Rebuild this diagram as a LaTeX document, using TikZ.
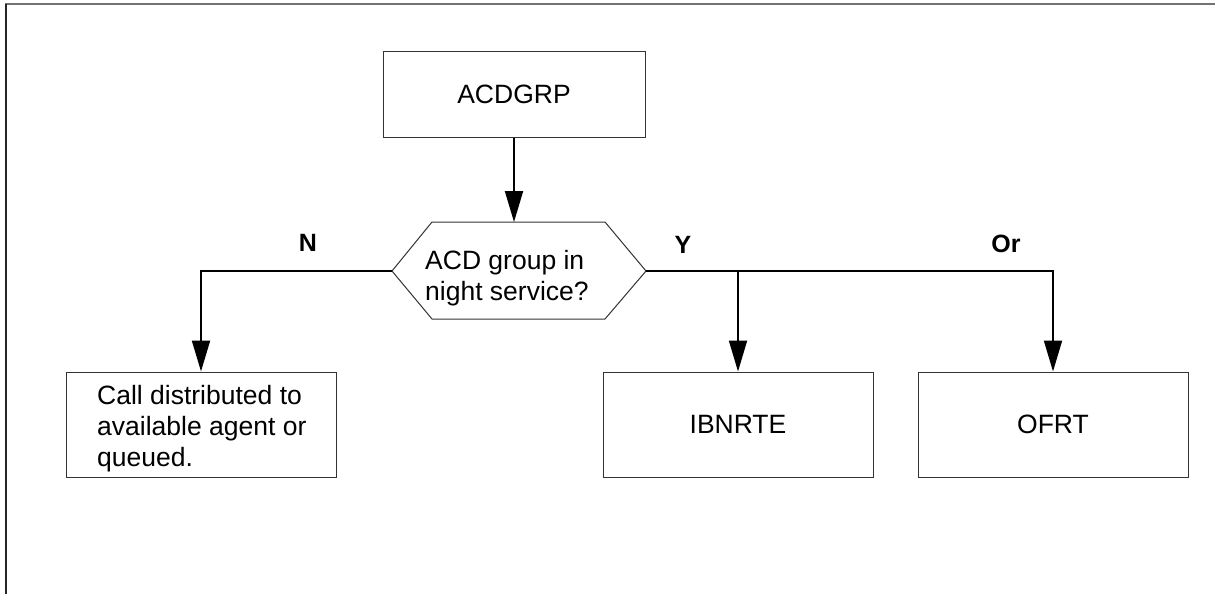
\documentclass[tikz,border=0pt]{standalone}
\usepackage{fontspec}
\setmainfont{Liberation Sans}
\usetikzlibrary{arrows.meta}
\begin{document}
\begin{tikzpicture}[x=1pt,y=-1pt,
  box/.style={draw=black!80,line width=1pt,minimum width=270pt,minimum height=105pt,inner sep=0pt,
    font=\fontsize{26.5}{31}\selectfont},
  txt/.style={inner sep=0pt,font=\fontsize{26.5}{31}\selectfont,align=left},
  conn/.style={draw=black,line width=2pt,-{Triangle[length=31pt,width=18pt]}},
  lbl/.style={inner sep=0pt,font=\fontsize{25}{29}\selectfont\bfseries}]
\useasboundingbox (0,0) rectangle (1215,594);
% frame
\draw[black!55,line width=1.5pt] (5.3,4) -- (1215,4);
\draw[black!85,line width=1.5pt] (6,4) -- (6,594);
% boxes
\node[box,minimum width=262pt,minimum height=85pt] (acd) at (514,94.5) {ACDGRP};
\node[box] (call) at (201,424.5) {};
\node[txt,anchor=west] (calltxt) at (97,429) {Call distributed to\\available agent or\\queued.};
\node[box] (ibn) at (738,424.5) {IBNRTE};
\node[box] (ofrt) at (1053,424.5) {OFRT};
% decision hexagon
\coordinate (hl) at (392,271);
\coordinate (htl) at (432,222);
\coordinate (htr) at (605,222);
\coordinate (hr) at (646,271);
\coordinate (hbr) at (605,319);
\coordinate (hbl) at (432,319);
\coordinate (ht) at (514,222);
\draw[black!80,line width=1pt] (hl) -- (htl) -- (htr) -- (hr) -- (hbr) -- (hbl) -- cycle;
\node[txt,anchor=west] (dec) at (425,278) {ACD group in\\night service?};
% connectors
\draw[conn] (acd.south) -- (ht);
\draw[conn] (hl) -| (call.north);
\draw[conn] (hr) -| (ofrt.north);
\draw[conn] (ibn.north |- hr) -- (ibn.north);
% labels
\node[lbl] (n) at (308,243) {N};
\node[lbl] (y) at (683,245) {Y};
\node[lbl] (or) at (1006,244) {Or};
\end{tikzpicture}
\end{document}
